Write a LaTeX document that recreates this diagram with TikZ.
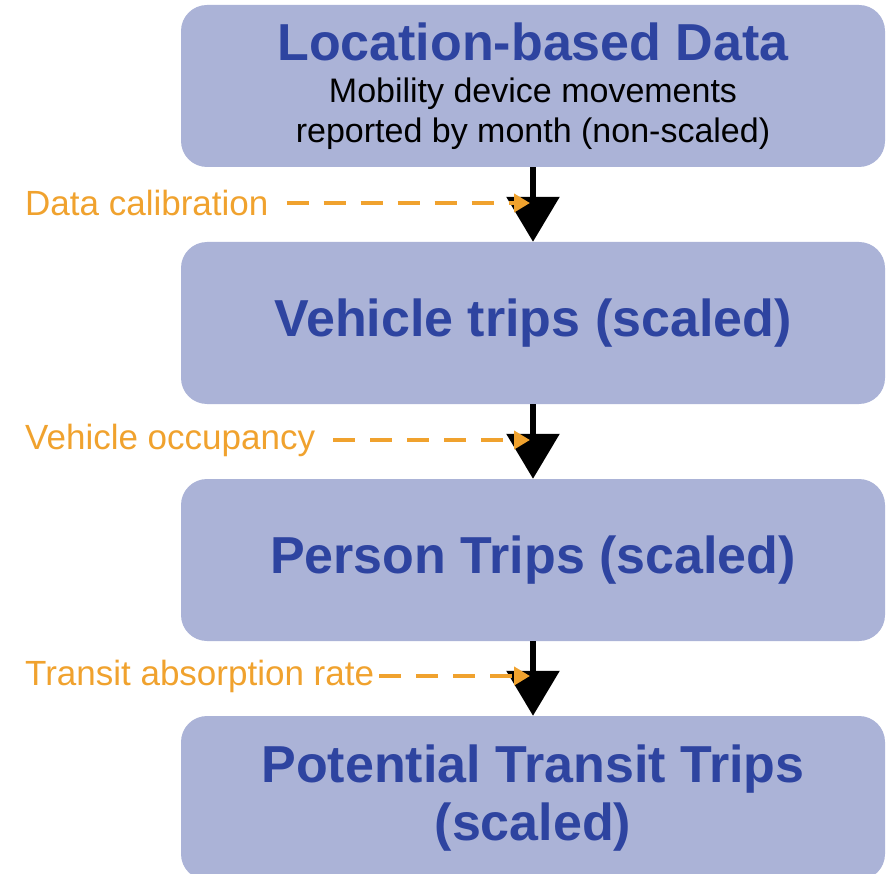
\documentclass[tikz,border=0pt]{standalone}
\usepackage{fontspec}
\setmainfont{Liberation Sans}
\usetikzlibrary{arrows.meta}
\usetikzlibrary{calc}

\definecolor{boxfill}{HTML}{ABB3D7}
\definecolor{boxtext}{HTML}{2E44A0}
\definecolor{cueorange}{HTML}{F0A22E}

\newcommand{\titlefont}{\fontsize{52}{58}\selectfont\bfseries\color{boxtext}}
\newcommand{\subfont}{\fontsize{34}{40}\selectfont\color{black}}

\begin{document}
\begin{tikzpicture}[x=1pt, y=-1pt,
  box/.style={fill=boxfill, rounded corners=26pt, minimum width=704pt, minimum height=162pt, align=center, inner sep=0pt, font=\titlefont},
  flow/.style={black, line width=6pt, -{Triangle[width=52pt,length=45pt]}},
  cue/.style={cueorange, line width=4.5pt, dash pattern=on 22pt off 15pt, -{Triangle[width=18pt,length=16pt]}},
  note/.style={anchor=west, inner sep=0pt, text=cueorange, font=\fontsize{35}{40}\selectfont}]
\useasboundingbox (0,0) rectangle (886,874);

% the four stages
\node[box, font=\subfont] (loc) at (533,86) {\titlefont Location-based Data\\[2pt]
  Mobility device movements\\ reported by month (non-scaled)};
\node[box] (veh) at (533,323) {Vehicle trips (scaled)};
\node[box] (per) at (533,560) {Person Trips (scaled)};
\node[box, minimum height=164pt] (pot) at (533,798) {Potential Transit Trips\\ (scaled)};

% steps between stages
\draw[flow] (loc.south) -- (veh.north);
\draw[flow] (veh.south) -- (per.north);
\draw[flow] (per.south) -- (pot.north);

% factors applied at each step
\node[note] (calib) at (25,203) {Data calibration};
\node[note] (occup) at (25,440) {Vehicle occupancy};
\node[note] (absorb) at (25,676) {Transit absorption rate};

\draw[cue] ([xshift=18pt]calib.east) -- ($(calib.east -| loc.south)+(-3,0)$);
\draw[cue] ([xshift=18pt]occup.east) -- ($(occup.east -| veh.south)+(-3,0)$);
\draw[cue] ([xshift=5pt]absorb.east) -- ($(absorb.east -| per.south)+(-3,0)$);
\end{tikzpicture}
\end{document}
